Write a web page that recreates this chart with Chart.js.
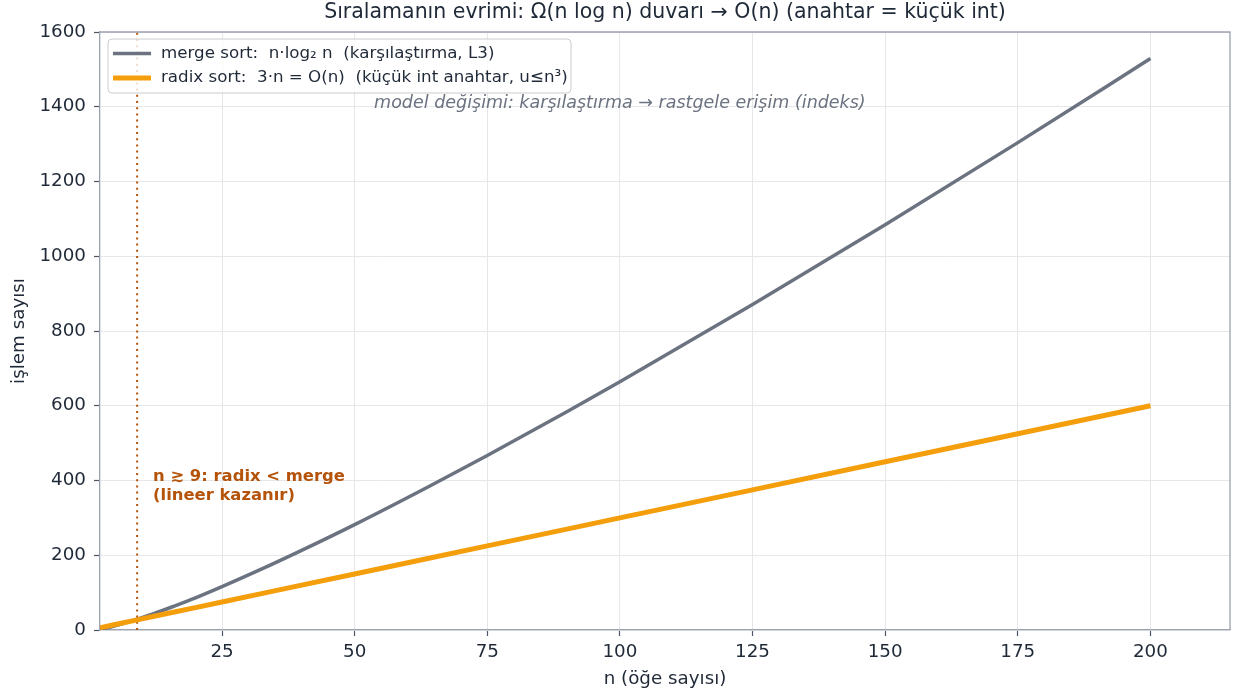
<!DOCTYPE html>
<html>
<head>
<meta charset="utf-8">
<script src="https://cdn.jsdelivr.net/npm/chart.js@4/dist/chart.umd.min.js"></script>
<style>
  html, body { margin: 0; padding: 0; background: #ffffff; }
  #wrap { width: 1233px; height: 695px; }
</style>
</head>
<body>
<div id="wrap"><canvas id="c" width="1233" height="695"></canvas></div>
<script>
// ---- data ----
const nValues  = [2, 4, 6, 9, 12, 16, 20, 25, 32, 40, 50, 64, 75, 90, 100, 125, 150, 175, 200];
const mergeOps = [2, 8, 16, 29, 43, 64, 86, 116, 160, 213, 282, 384, 467, 584, 664, 871, 1084, 1304, 1529];
const radixOps = [6, 12, 18, 27, 36, 48, 60, 75, 96, 120, 150, 192, 225, 270, 300, 375, 450, 525, 600];
const crossoverN = 9;
const xTicks = [25, 50, 75, 100, 125, 150, 175, 200];
const yTicks = [0, 200, 400, 600, 800, 1000, 1200, 1400, 1600];
const seriesLabels = [
  'merge sort:  n\u00b7log\u2082 n  (kar\u015f\u0131la\u015ft\u0131rma, L3)',
  'radix sort:  3\u00b7n = O(n)  (k\u00fc\u00e7\u00fck int anahtar, u\u2264n\u00b3)'
];
const titleText = 'S\u0131ralaman\u0131n evrimi: \u03a9(n log n) duvar\u0131 \u2192 O(n) (anahtar = k\u00fc\u00e7\u00fck int)';
const xLabel = 'n (\u00f6\u011fe say\u0131s\u0131)';
const yLabel = 'i\u015flem say\u0131s\u0131';
const modelNote = 'model de\u011fi\u015fimi: kar\u015f\u0131la\u015ft\u0131rma \u2192 rastgele eri\u015fim (indeks)';
const crossNote = ['n \u2273 9: radix < merge', '(lineer kazan\u0131r)'];

// ---- styles ----
const FONT = '"DejaVu Sans", "Liberation Sans", sans-serif';
const C_MERGE = '#6b7280';
const C_RADIX = '#f59e0b';
const C_NOTE  = '#b45309';
const C_TEXT  = '#1f2937';
const C_SPINE = '#9ca3af';
const C_GRID  = '#e5e7eb';
const C_TICK  = '#4b5563';

const toXY = (xs, ys) => xs.map((v, i) => ({ x: v, y: ys[i] }));

const decor = {
  id: 'decor',
  afterDraw(chart) {
    const { ctx, chartArea: a, scales: { x, y } } = chart;
    ctx.save();

    // top and right frame lines
    ctx.strokeStyle = C_SPINE;
    ctx.lineWidth = 1.3;
    ctx.beginPath();
    ctx.moveTo(a.left, a.top);
    ctx.lineTo(a.right, a.top);
    ctx.lineTo(a.right, a.bottom);
    ctx.stroke();

    // title and axis titles
    ctx.fillStyle = C_TEXT;
    ctx.textAlign = 'center';
    ctx.textBaseline = 'middle';
    ctx.font = '20.5px ' + FONT;
    ctx.fillText(titleText, (a.left + a.right) / 2, 13);
    ctx.font = '18.3px ' + FONT;
    ctx.fillText(xLabel, (a.left + a.right) / 2, 679);
    ctx.save();
    ctx.translate(19, (a.top + a.bottom) / 2);
    ctx.rotate(-Math.PI / 2);
    ctx.fillText(yLabel, 0, 0);
    ctx.restore();

    // model note (italic)
    ctx.fillStyle = C_MERGE;
    ctx.font = 'italic 17.5px ' + FONT;
    ctx.fillText(modelNote, x.getPixelForValue(100), y.getPixelForValue(1410));

    // crossover note (bold)
    ctx.fillStyle = C_NOTE;
    ctx.font = 'bold 16.4px ' + FONT;
    ctx.textAlign = 'left';
    const ax = x.getPixelForValue(12);
    const ay = y.getPixelForValue(384);
    ctx.fillText(crossNote[0], ax, ay - 9.5);
    ctx.fillText(crossNote[1], ax, ay + 9.5);

    // legend
    const lx = 108, ly = 39, lw = 463, lh = 54, r = 4;
    ctx.beginPath();
    ctx.moveTo(lx + r, ly);
    ctx.arcTo(lx + lw, ly, lx + lw, ly + lh, r);
    ctx.arcTo(lx + lw, ly + lh, lx, ly + lh, r);
    ctx.arcTo(lx, ly + lh, lx, ly, r);
    ctx.arcTo(lx, ly, lx + lw, ly, r);
    ctx.closePath();
    ctx.fillStyle = 'rgba(255,255,255,0.8)';
    ctx.fill();
    ctx.strokeStyle = '#cccccc';
    ctx.lineWidth = 1;
    ctx.stroke();

    const rows = [
      { label: seriesLabels[0], color: C_MERGE, w: 3.5, yy: 53.5 },
      { label: seriesLabels[1], color: C_RADIX, w: 5, yy: 78 }
    ];
    ctx.font = '16.7px ' + FONT;
    ctx.textBaseline = 'middle';
    rows.forEach(rw => {
      ctx.strokeStyle = rw.color;
      ctx.lineWidth = rw.w;
      ctx.lineCap = 'butt';
      ctx.beginPath();
      ctx.moveTo(113, rw.yy);
      ctx.lineTo(151, rw.yy);
      ctx.stroke();
      ctx.fillStyle = C_TEXT;
      ctx.fillText(rw.label, 161, rw.yy);
    });

    ctx.restore();
  }
};

new Chart(document.getElementById('c'), {
  type: 'line',
  data: {
    datasets: [
      {
        label: 'crossover',
        data: [{ x: crossoverN, y: 0 }, { x: crossoverN, y: 1600 }],
        borderColor: C_NOTE,
        borderWidth: 2,
        borderDash: [2, 4.2],
        pointRadius: 0,
        order: 3
      },
      {
        label: seriesLabels[0],
        data: toXY(nValues, mergeOps),
        borderColor: C_MERGE,
        borderWidth: 3.5,
        pointRadius: 0,
        cubicInterpolationMode: 'monotone',
        order: 2
      },
      {
        label: seriesLabels[1],
        data: toXY(nValues, radixOps),
        borderColor: C_RADIX,
        borderWidth: 5,
        pointRadius: 0,
        order: 1
      }
    ]
  },
  options: {
    responsive: false,
    devicePixelRatio: 1,
    animation: false,
    layout: { padding: { top: 32, right: 3, left: 0, bottom: 0 } },
    plugins: {
      legend: { display: false },
      title: { display: false },
      tooltip: { enabled: false }
    },
    scales: {
      x: {
        type: 'linear',
        min: 2,
        max: 215,
        afterBuildTicks: s => { s.ticks = xTicks.map(v => ({ value: v })); },
        afterFit: s => { s.height = 65; },
        grid: { color: C_GRID, lineWidth: 1, tickLength: 6, tickColor: C_TICK, tickWidth: 1.2 },
        border: { display: true, color: C_SPINE, width: 1.3 },
        ticks: { color: C_TEXT, font: { family: FONT, size: 18.3 }, padding: 5, maxRotation: 0, autoSkip: false,
                 callback: v => String(v) }
      },
      y: {
        type: 'linear',
        min: 0,
        max: 1600,
        afterBuildTicks: s => { s.ticks = yTicks.map(v => ({ value: v })); },
        afterFit: s => { s.width = 100; },
        grid: { color: C_GRID, lineWidth: 1, tickLength: 6, tickColor: C_TICK, tickWidth: 1.2 },
        border: { display: true, color: C_SPINE, width: 1.3 },
        ticks: { color: C_TEXT, font: { family: FONT, size: 18.3 }, padding: 8, autoSkip: false,
                 callback: v => String(v) }
      }
    }
  },
  plugins: [decor]
});
</script>
</body>
</html>
